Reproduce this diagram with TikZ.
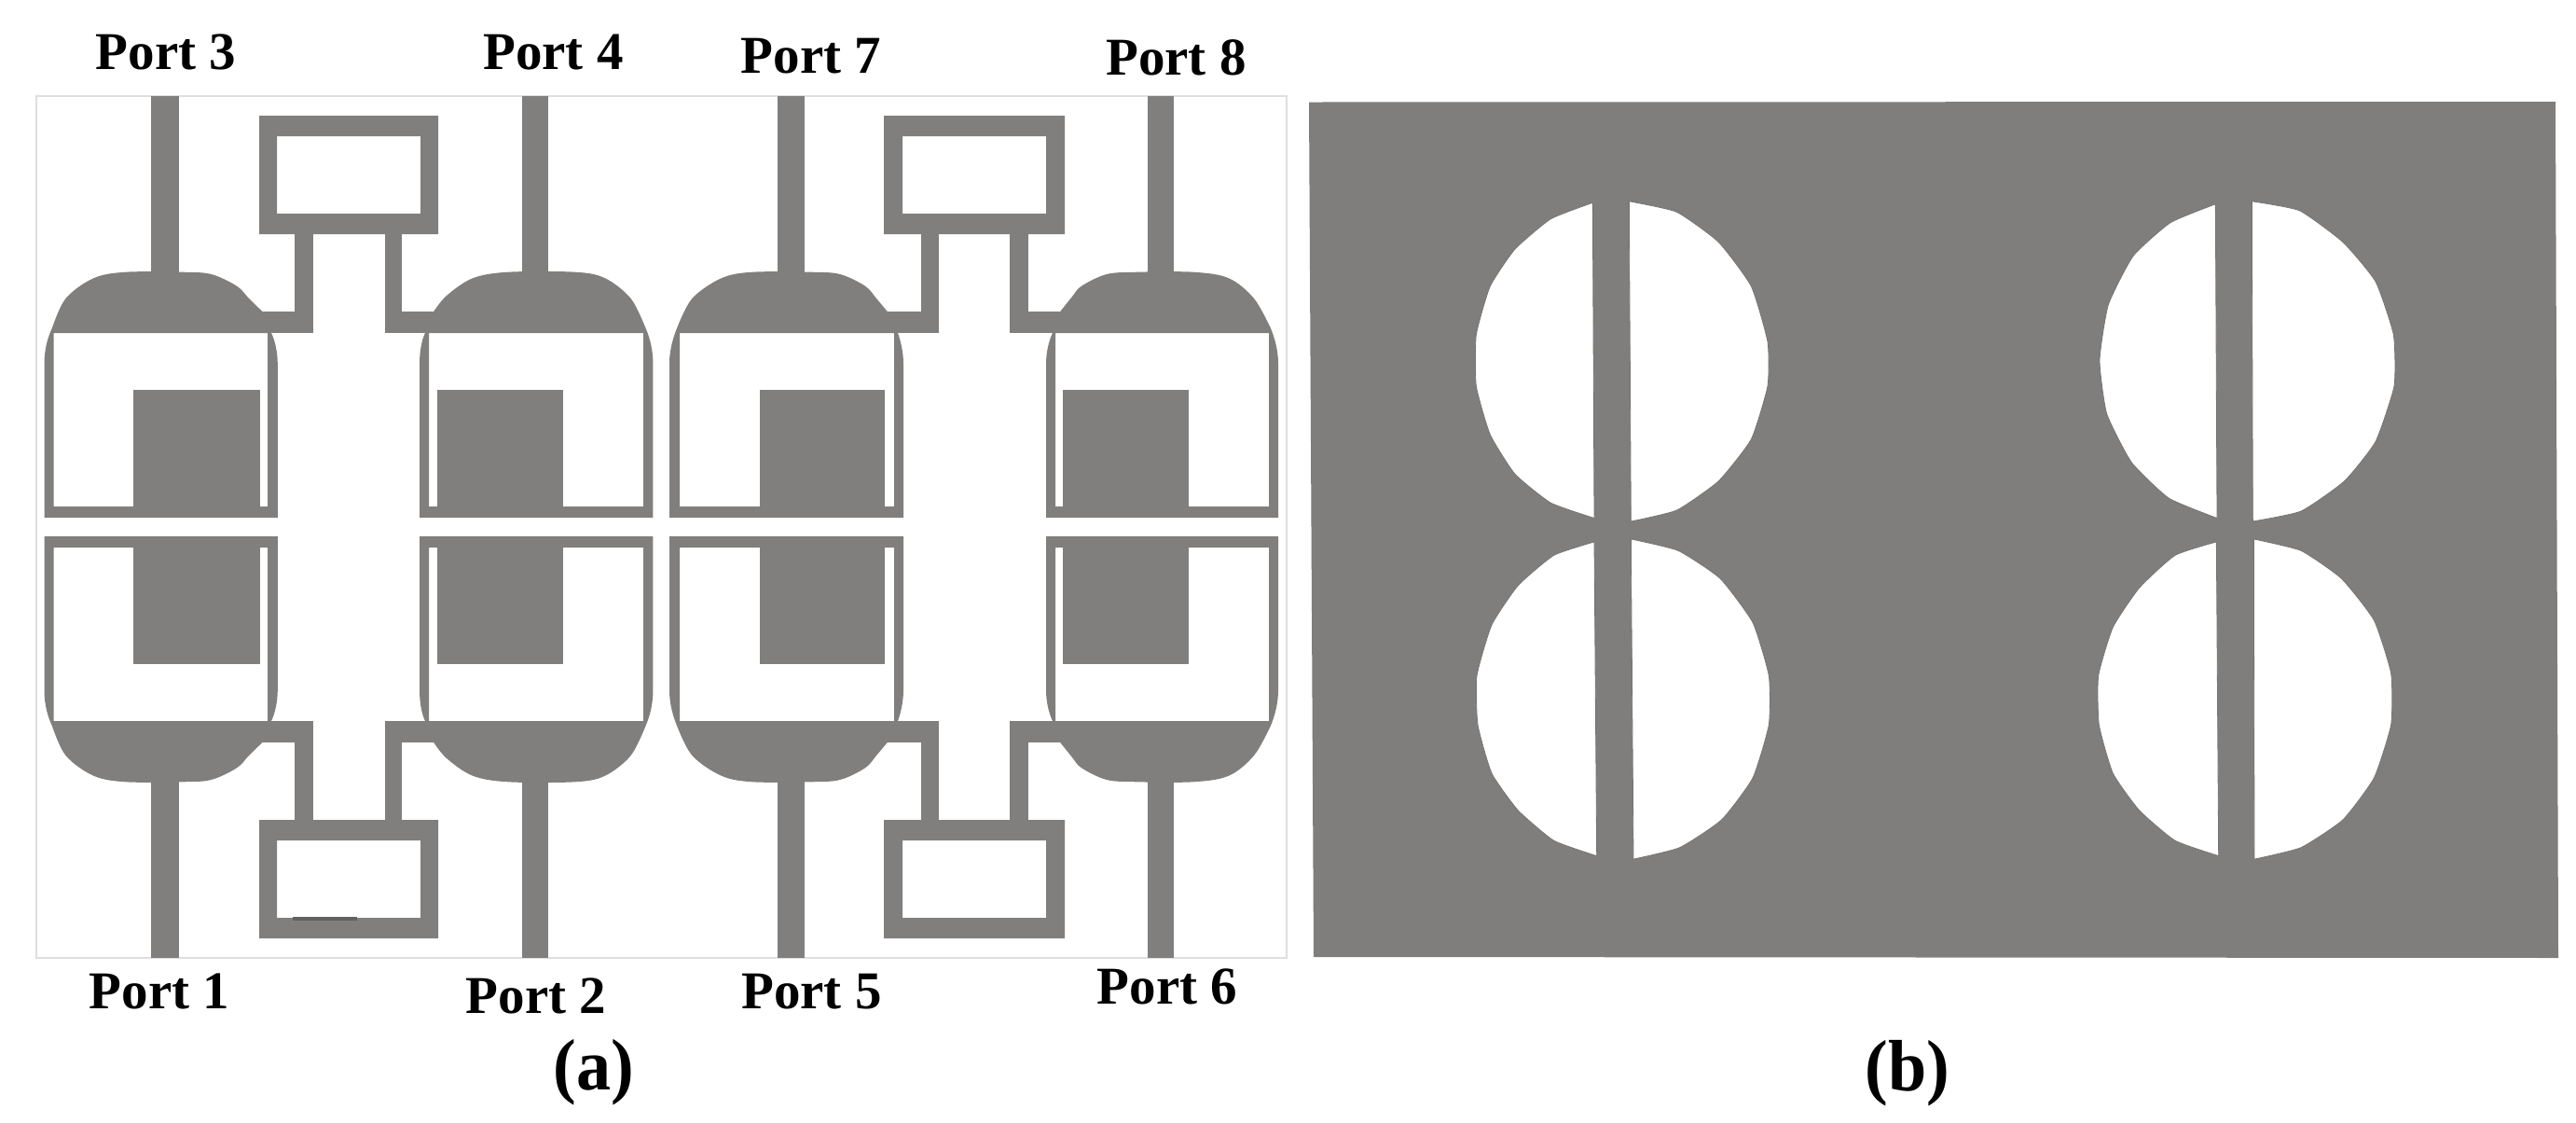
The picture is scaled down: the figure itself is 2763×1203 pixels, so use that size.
\documentclass[tikz,border=0pt]{standalone}
\usepackage{fontspec}
\setmainfont{Liberation Serif}
\definecolor{metal}{HTML}{807F7D}
\definecolor{sheet}{HTML}{7F7E7C}
\definecolor{framegrey}{HTML}{DEDEDE}
\tikzset{
  metalfill/.style={fill=metal},
  portlabel/.style={inner sep=0pt,anchor=base,font=\fontsize{57}{60}\selectfont\bfseries},
  caplabel/.style={inner sep=0pt,anchor=base,font=\fontsize{78}{84}\selectfont\bfseries},
  slot/.style={fill=white,draw=black!55,line width=0.8pt,line join=round},
  slotscope/.style={x=0.33333pt,y=-0.4974pt},
  arcline/.style={smooth,tension=0.55},
  slotline/.style={smooth,tension=0.3}
}
% #1,#2 inner wall x; #3,#4 patch x; #5 feed left; #6 feed right; #7 outline
\newcommand\antcell[7]{%
  \fill[metalfill,even odd rule] #7 -- cycle (#1,357) rectangle (#2,543);
  \fill[metalfill] (#3,418) rectangle (#4,546);
  \fill[metalfill] (#5,103) rectangle (#6,296);
}
% #1,#2 ring outer x; #3,#4 ring inner x; #5,#6 left stub; #7,#8 right stub; #9 left bar start
\newcommand\antring[9]{%
  \fill[metalfill,even odd rule] (#1,124) rectangle (#2,251) (#3,146) rectangle (#4,229);
  \fill[metalfill] (#5,250) rectangle (#6,357);
  \fill[metalfill] (#7,250) rectangle (#8,357);
  \fill[metalfill] (#9,334) rectangle (#6,357);
}
\newcommand\anthalf{%
  \antcell{57.6}{287.2}{143}{279}{162}{192}{(47.5,555) -- (47.5,390) .. controls (47.5,375) and (51,362) .. (55.8,352) -- plot[arcline] coordinates {(55.8,352) (70.5,320) (100.3,298.3) (134.8,291.7) (196,291.7) (226.6,294) (254,306.7) (267,320) (281.7,334.3)} -- (291,357) .. controls (295,365) and (297.8,378) .. (297.8,390) -- (297.8,555)}
  \antcell{460}{690}{469}{604}{560}{588.4}{(700.4,555) -- (700.4,390) .. controls (700.4,375) and (697,362) .. (692.6,352) -- plot[arcline] coordinates {(692.6,352) (676.6,320) (649,298.3) (617,291.7) (545,291.7) (507,298.3) (479,317) (465,334.3)} -- (456,357) .. controls (452,365) and (450,378) .. (450,390) -- (450,555)}
  \antcell{729}{959}{815}{949}{834}{863.4}{(718,555) -- (718,390) .. controls (718,375) and (722,362) .. (726,352) -- plot[arcline] coordinates {(726,352) (742.4,320) (773.7,298.3) (807,291.7) (870,291.7) (901,294) (928,306.7) (940,320) (952,334.3)} -- (963,357) .. controls (966,365) and (969,378) .. (969,390) -- (969,555)}
  \antcell{1132}{1361}{1140}{1275}{1231}{1259}{(1371,555) -- (1371,390) .. controls (1371,375) and (1367,362) .. (1363,352) -- plot[arcline] coordinates {(1363,352) (1345,320) (1318,298.3) (1280,291.7) (1220,291.7) (1187,294) (1160,306.7) (1150,318) (1137,334.3)} -- (1129,357) .. controls (1125,365) and (1122,378) .. (1122,390) -- (1122,555)}
  \antring{278}{470}{297}{451}{316}{336}{412.5}{431}{280}
  \fill[metalfill] (412.5,334) rectangle (467,357);
  \antring{948}{1142}{968}{1122}{988}{1007}{1083}{1103}{950}
  \fill[metalfill] (1083,334) rectangle (1139,357);
}
\begin{document}
\begin{tikzpicture}[x=1pt,y=-1pt]
\useasboundingbox (0,0) rectangle (2763,1203);
\draw[framegrey,line width=2pt] (38.5,103) rectangle (1380,1027);
\anthalf
\begin{scope}[y=1pt,yshift=-1130pt]
\anthalf
\end{scope}
\fill[black!62] (314,983) rectangle (383,987);
% panel (b)
\fill[sheet] (1404,109.5) -- (2741,109) -- (2744,1027) -- (1409,1026) -- cycle;
\begin{scope}[slotscope,xshift=1500pt,yshift=-180pt]
\filldraw[slot] plot[slotline] coordinates {(625,75) (490,110) (375,175) (295,255) (250,360) (250,470) (295,575) (375,660) (490,722) (630,755)} -- cycle;
\filldraw[slot] plot[slotline] coordinates {(742,72) (895,95) (1030,160) (1135,255) (1188,375) (1188,470) (1135,585) (1030,675) (895,738) (748,762)} -- cycle;
\filldraw[slot] plot[slotline] coordinates {(630,806) (500,835) (385,900) (300,985) (252,1095) (255,1200) (300,1305) (385,1385) (500,1450) (638,1483)} -- cycle;
\filldraw[slot] plot[slotline] coordinates {(748,800) (900,825) (1035,885) (1140,980) (1192,1095) (1192,1200) (1140,1315) (1040,1405) (905,1465) (756,1490)} -- cycle;
\end{scope}
\begin{scope}[slotscope,xshift=2168pt,yshift=-180pt]
\filldraw[slot] plot[slotline] coordinates {(625,78) (480,118) (360,190) (280,295) (252,415) (275,530) (355,635) (475,712) (630,755)} -- cycle;
\filldraw[slot] plot[slotline] coordinates {(742,72) (895,92) (1035,160) (1140,245) (1198,360) (1200,470) (1140,590) (1040,675) (900,740) (745,762)} -- cycle;
\filldraw[slot] plot[slotline] coordinates {(628,806) (495,835) (380,905) (295,990) (248,1095) (250,1200) (295,1305) (380,1385) (495,1450) (635,1483)} -- cycle;
\filldraw[slot] plot[slotline] coordinates {(748,800) (900,825) (1030,885) (1135,975) (1190,1090) (1190,1200) (1135,1315) (1035,1405) (900,1465) (750,1490)} -- cycle;
\end{scope}
% labels
\node[portlabel] (p3) at (178,74) {Port 3};
\node[portlabel] (p4) at (593.5,74) {Port 4};
\node[portlabel] (p7) at (870,78) {Port 7};
\node[portlabel] (p8) at (1261.5,80) {Port 8};
\node[portlabel] (p1) at (171,1081.5) {Port 1};
\node[portlabel] (p2) at (575,1086) {Port 2};
\node[portlabel] (p5) at (870.5,1081) {Port 5};
\node[portlabel] (p6) at (1252,1076.5) {Port 6};
\node[caplabel] (capa) at (637,1168) {\scalebox{0.95}[1]{(a)}};
\node[caplabel] (capb) at (2046,1169) {\scalebox{0.95}[1]{(b)}};
\end{tikzpicture}
\end{document}
